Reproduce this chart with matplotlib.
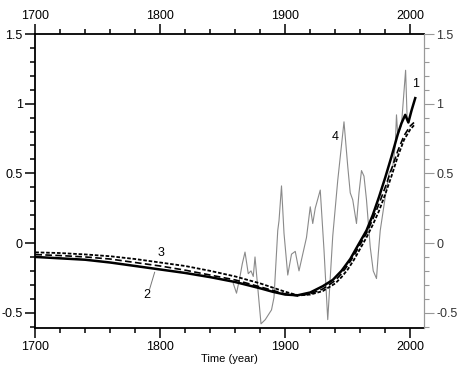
import matplotlib
matplotlib.use("Agg")
import matplotlib.pyplot as plt
from matplotlib.ticker import MultipleLocator

plt.rcParams['font.family'] = ['Liberation Sans', 'DejaVu Sans']

# Curve 1 (thick solid)
years1 = [1700, 1720, 1740, 1760, 1780, 1800, 1820, 1840, 1860, 1880, 1890, 1900,
          1910, 1920, 1930, 1938, 1945, 1952, 1958, 1965, 1970, 1975, 1980,
          1985, 1990, 1993, 1996, 1998.5, 2001, 2004]
vals1 = [-0.10, -0.11, -0.12, -0.14, -0.165, -0.19, -0.215, -0.245, -0.28, -0.325, -0.35, -0.37,
         -0.375, -0.355, -0.31, -0.265, -0.20, -0.115, -0.02, 0.09, 0.20, 0.33, 0.47,
         0.62, 0.78, 0.86, 0.92, 0.865, 0.95, 1.04]

# Curve 2 (dashed)
years2 = [1700, 1720, 1740, 1760, 1780, 1800, 1820, 1840, 1860, 1880, 1900, 1910, 1920,
          1930, 1940, 1945, 1950, 1955, 1960, 1965, 1970, 1975, 1980, 1985, 1990, 1995, 2000, 2003]
vals2 = [-0.083, -0.09, -0.10, -0.115, -0.14, -0.165, -0.195, -0.23, -0.265, -0.315, -0.365, -0.38, -0.365,
         -0.33, -0.27, -0.22, -0.16, -0.09, -0.01, 0.07, 0.17, 0.28, 0.40, 0.53, 0.66, 0.77, 0.84, 0.865]

# Curve 3 (dotted)
years3 = [1700, 1720, 1740, 1760, 1780, 1800, 1820, 1840, 1860, 1880, 1900, 1910, 1920,
          1930, 1940, 1945, 1950, 1955, 1960, 1965, 1970, 1975, 1980, 1985, 1990, 1995, 2000, 2003]
vals3 = [-0.067, -0.072, -0.082, -0.095, -0.115, -0.14, -0.165, -0.20, -0.24, -0.29, -0.35, -0.375, -0.37,
         -0.345, -0.29, -0.245, -0.19, -0.12, -0.04, 0.04, 0.13, 0.23, 0.35, 0.48, 0.62, 0.74, 0.815, 0.845]

# Curve 4 (observed, thin gray)
years4 = [1858.4, 1861, 1863.8, 1865.6, 1867.8, 1870.4, 1872.6, 1874.4, 1875.8, 1878.4, 1880.6, 1884,
          1889, 1891, 1894, 1895, 1897, 1899, 1902, 1905, 1908, 1911, 1914, 1917,
          1920, 1922, 1924, 1928, 1931, 1934, 1938, 1942, 1947, 1950, 1952, 1954, 1957, 1959,
          1961, 1963, 1965, 1968, 1970.4, 1973, 1974.5, 1976, 1980, 1983, 1986, 1988, 1989, 1990,
          1993, 1996.3, 1997.5]
vals4 = [-0.29, -0.36, -0.24, -0.15, -0.065, -0.22, -0.20, -0.24, -0.10, -0.36, -0.58, -0.55,
         -0.48, -0.39, 0.09, 0.16, 0.41, 0.07, -0.23, -0.08, -0.06, -0.20, -0.08, 0.04,
         0.26, 0.14, 0.25, 0.38, -0.05, -0.55, 0.05, 0.45, 0.87, 0.55, 0.36, 0.31, 0.14, 0.36,
         0.52, 0.48, 0.31, -0.03, -0.20, -0.255, -0.07, 0.09, 0.33, 0.50, 0.55, 0.70, 0.92, 0.78,
         0.85, 1.24, 0.90]

xticks = [1700, 1800, 1900, 2000]
yticks = [1.5, 1.0, 0.5, 0.0, -0.5]
ytick_labels = ['1.5', '1', '0.5', '0', '-0.5']

fig = plt.figure(figsize=(4.59, 3.70), dpi=100)
ax = fig.add_axes([0.0769, 0.1135, 0.8468, 0.7945])

ax.plot(years4, vals4, color='#8a8a8a', lw=0.8, zorder=2)
ax.plot(years3, vals3, color='black', lw=1.3, ls=(0, (2, 1)), zorder=3)
ax.plot(years2, vals2, color='black', lw=1.2, ls=(0, (4, 2)), zorder=3)
ax.plot(years1, vals1, color='black', lw=1.8, zorder=4)

ax.set_xlim(1700, 2011)
ax.set_ylim(-0.61, 1.5)

ax.set_xticks(xticks)
ax.xaxis.set_minor_locator(MultipleLocator(20))
ax.set_yticks(yticks)
ax.set_yticklabels(ytick_labels)
ax.yaxis.set_minor_locator(MultipleLocator(0.1))

ax.tick_params(axis='x', which='both', direction='out', top=True, bottom=True,
               labeltop=True, labelbottom=True, labelsize=9, pad=2, width=1.1)
ax.tick_params(axis='x', which='major', length=7)
ax.tick_params(axis='x', which='minor', length=3.5)
ax.tick_params(axis='y', which='both', direction='out', left=True, right=False,
               labelsize=9, pad=2, width=1.1)
ax.tick_params(axis='y', which='major', length=7)
ax.tick_params(axis='y', which='minor', length=3.5)

for s in ['left', 'top', 'bottom']:
    ax.spines[s].set_linewidth(1.3)
ax.spines['right'].set_color('#999999')
ax.spines['right'].set_linewidth(0.8)

# right gray axis
ax2 = ax.twinx()
ax2.set_ylim(ax.get_ylim())
ax2.set_yticks(yticks)
ax2.set_yticklabels(ytick_labels)
ax2.yaxis.set_minor_locator(MultipleLocator(0.1))
ax2.tick_params(axis='y', which='both', direction='out', color='#999999',
                labelsize=9, pad=2, width=0.8, labelcolor='#333333')
ax2.tick_params(axis='y', which='major', length=7)
ax2.tick_params(axis='y', which='minor', length=3.5)
for s in ['left', 'top', 'bottom']:
    ax2.spines[s].set_visible(False)
ax2.spines['right'].set_color('#999999')
ax2.spines['right'].set_linewidth(0.8)

ax.set_xlabel('Time (year)', fontsize=8, labelpad=1)

# curve labels
ax.text(1800.5, -0.075, '3', fontsize=9, ha='center', va='center')
ax.text(1789, -0.375, '2', fontsize=9, ha='center', va='center')
ax.plot([1795.5, 1791.5], [-0.21, -0.33], color='#777777', lw=0.7)
ax.text(1940, 0.76, '4', fontsize=9, ha='center', va='center')
ax.text(2004.3, 1.14, '1', fontsize=9, ha='center', va='center')

fig.savefig('out.png', dpi=100)
